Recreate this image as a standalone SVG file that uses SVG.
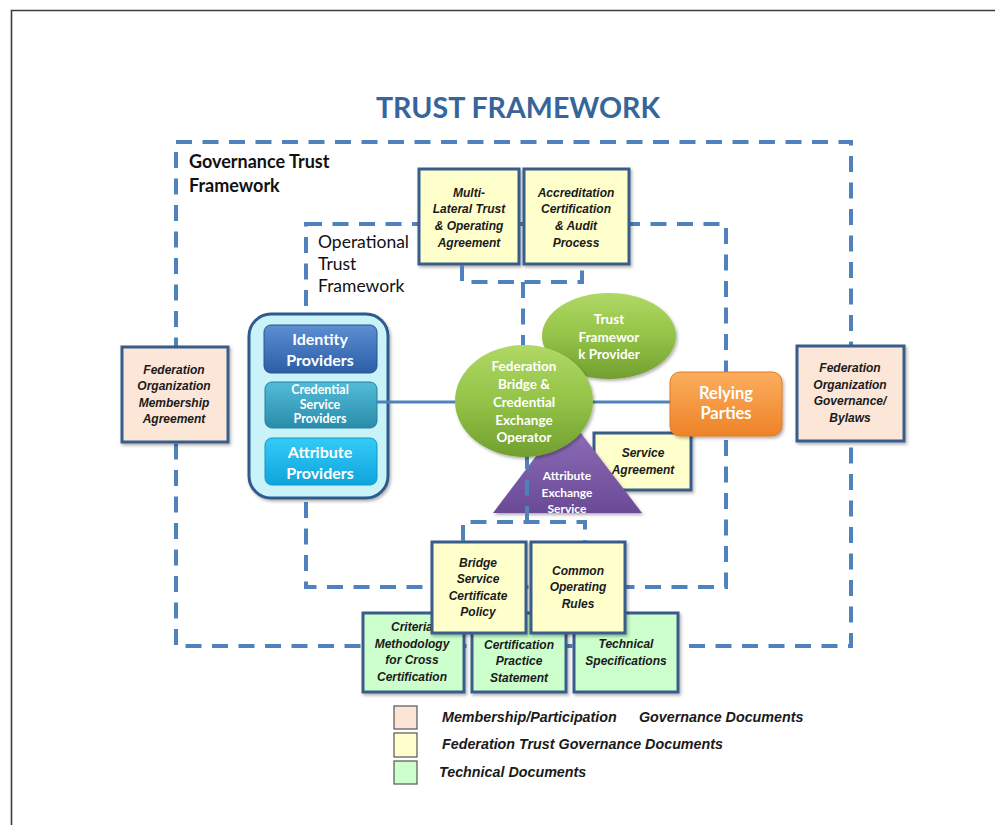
<svg xmlns="http://www.w3.org/2000/svg" width="995" height="825" viewBox="0 0 995 825">
  <defs>
    <style>
      .dash { fill: none; stroke: #4F81BD; stroke-width: 4; stroke-dasharray: 16 10.5; }
      .solid { fill: none; stroke: #4F81BD; stroke-width: 3; }
      .doc { stroke: #385D8A; stroke-width: 3; }
      .peach { fill: #FCE6D8; }
      .yellow { fill: #FFFFCC; }
      .green { fill: #CCFFCC; }
      .dt { font-family: "Liberation Sans", Arial, sans-serif; font-weight: bold; font-style: italic; font-size: 12px; fill: #1a1a1a; text-anchor: middle; }
      .wt { font-family: Lato, "Liberation Sans", sans-serif; font-weight: bold; fill: #ffffff; text-anchor: middle; }
      .lab { font-family: Lato, "Liberation Sans", sans-serif; fill: #111111; }
      .leg { font-family: "Liberation Sans", Arial, sans-serif; font-weight: bold; font-style: italic; font-size: 14.3px; fill: #1a1a1a; }
      .legbox { stroke: #555555; stroke-width: 1.2; }
    </style>
    <filter id="shadow" x="-10%" y="-10%" width="130%" height="130%">
      <feDropShadow dx="1.5" dy="2" stdDeviation="1.5" flood-color="#000000" flood-opacity="0.3"/>
    </filter>
    <linearGradient id="gIdentity" x1="0" y1="0" x2="0" y2="1">
      <stop offset="0" stop-color="#5C8ED3"/>
      <stop offset="1" stop-color="#2C5EA6"/>
    </linearGradient>
    <linearGradient id="gCredential" x1="0" y1="0" x2="0" y2="1">
      <stop offset="0" stop-color="#52BCD8"/>
      <stop offset="1" stop-color="#2A8CAB"/>
    </linearGradient>
    <linearGradient id="gAttribute" x1="0" y1="0" x2="0" y2="1">
      <stop offset="0" stop-color="#35CBF7"/>
      <stop offset="1" stop-color="#0FA4DC"/>
    </linearGradient>
    <linearGradient id="gGreen" x1="0" y1="0" x2="0" y2="1">
      <stop offset="0" stop-color="#B0D865"/>
      <stop offset="0.5" stop-color="#93C347"/>
      <stop offset="1" stop-color="#729F30"/>
    </linearGradient>
    <linearGradient id="gOrange" x1="0" y1="0" x2="0" y2="1">
      <stop offset="0" stop-color="#FBAE5E"/>
      <stop offset="1" stop-color="#EE8328"/>
    </linearGradient>
    <linearGradient id="gPurple" x1="0" y1="0" x2="0" y2="1">
      <stop offset="0" stop-color="#9272BC"/>
      <stop offset="1" stop-color="#6A4A96"/>
    </linearGradient>
  </defs>

  <rect width="995" height="825" fill="#ffffff"/>

  <!-- page border -->
  <path d="M11.5 825 V10.5 H995" fill="none" stroke="#3c3c3c" stroke-width="1.6"/>

  <!-- heading -->
  <text x="518" y="118" font-family="Lato, 'Liberation Sans', sans-serif" font-weight="bold" font-size="28.6" fill="#36659B" text-anchor="middle">TRUST FRAMEWORK</text>

  <!-- framework boundaries -->
  <g id="frames">
    <rect class="dash" x="176" y="142" width="675" height="504"/>
    <rect class="dash" x="306" y="224" width="420" height="363"/>
    <text class="lab" font-weight="bold" font-size="18" x="189" y="168">Governance Trust</text>
    <text class="lab" font-weight="bold" font-size="18" x="189" y="192">Framework</text>
    <text class="lab" font-size="17.5" x="318" y="248">Operational</text>
    <text class="lab" font-size="17.5" x="318" y="270">Trust</text>
    <text class="lab" font-size="17.5" x="318" y="292">Framework</text>
  </g>

  <!-- document boxes and parties -->
  <g id="multilateral-agreement">
    <rect class="doc yellow" x="419" y="169" width="100" height="95" filter="url(#shadow)"/>
    <text class="dt" x="469" y="197">Multi-</text>
    <text class="dt" x="469" y="213">Lateral Trust</text>
    <text class="dt" x="469" y="230">&amp; Operating</text>
    <text class="dt" x="469" y="247">Agreement</text>
  </g>
  <g id="accreditation-process">
    <rect class="doc yellow" x="524" y="169" width="105" height="95" filter="url(#shadow)"/>
    <text class="dt" x="576" y="197">Accreditation</text>
    <text class="dt" x="576" y="213">Certification</text>
    <text class="dt" x="576" y="230">&amp; Audit</text>
    <text class="dt" x="576" y="247">Process</text>
  </g>
  <g id="membership-agreement">
    <rect class="doc peach" x="122" y="347" width="106" height="95" filter="url(#shadow)"/>
    <text class="dt" x="174" y="374">Federation</text>
    <text class="dt" x="174" y="390">Organization</text>
    <text class="dt" x="174" y="407">Membership</text>
    <text class="dt" x="174" y="423">Agreement</text>
  </g>
  <g id="governance-bylaws">
    <rect class="doc peach" x="797" y="346" width="107" height="95" filter="url(#shadow)"/>
    <text class="dt" x="850" y="372">Federation</text>
    <text class="dt" x="850" y="389">Organization</text>
    <text class="dt" x="850" y="405">Governance/</text>
    <text class="dt" x="850" y="422">Bylaws</text>
  </g>

  <g id="providers">
    <rect x="249" y="314" width="139" height="184" rx="22" fill="#C9F3F8" stroke="#2F5A8E" stroke-width="3" filter="url(#shadow)"/>
    <g id="identity-providers">
      <rect x="264" y="325" width="113" height="48" rx="7" fill="url(#gIdentity)" stroke="#2A5290" stroke-width="1"/>
      <text class="wt" font-size="16" x="320" y="345">Identity</text>
      <text class="wt" font-size="16" x="320" y="366">Providers</text>
    </g>
    <g id="credential-service-providers">
      <rect x="265" y="382" width="112" height="46" rx="7" fill="url(#gCredential)" stroke="#25809C" stroke-width="1"/>
      <text class="wt" font-weight="normal" font-size="12.5" x="320" y="394">Credential</text>
      <text class="wt" font-weight="normal" font-size="12.5" x="320" y="409">Service</text>
      <text class="wt" font-weight="normal" font-size="12.5" x="320" y="423">Providers</text>
    </g>
    <g id="attribute-providers">
      <rect x="265" y="438" width="112" height="47" rx="7" fill="url(#gAttribute)" stroke="#0E97CB" stroke-width="1"/>
      <text class="wt" font-size="16" x="320" y="458">Attribute</text>
      <text class="wt" font-size="16" x="320" y="479">Providers</text>
    </g>
  </g>

  <g id="service-agreement">
    <rect class="doc yellow" x="594" y="433" width="97" height="57" filter="url(#shadow)"/>
    <text class="dt" x="643" y="457">Service</text>
    <text class="dt" x="643" y="474">Agreement</text>
  </g>

  <g id="relying-parties">
    <rect x="670" y="372" width="112" height="64" rx="10" fill="url(#gOrange)" stroke="#E27A22" stroke-width="1" filter="url(#shadow)"/>
    <text class="wt" font-size="16.5" x="726" y="399">Relying</text>
    <text class="wt" font-size="16.5" x="726" y="419">Parties</text>
  </g>

  <g id="attribute-exchange-service">
    <polygon points="567,415 642,513 493,513" fill="url(#gPurple)" filter="url(#shadow)"/>
    <text class="wt" font-size="12" x="567" y="480">Attribute</text>
    <text class="wt" font-size="12" x="567" y="497">Exchange</text>
    <text class="wt" font-size="12" x="567" y="513">Service</text>
  </g>

  <g id="technical-criteria">
    <rect class="doc green" x="363" y="613" width="101" height="79" filter="url(#shadow)"/>
    <text class="dt" x="412" y="631">Criteria</text>
    <text class="dt" x="412" y="648">Methodology</text>
    <text class="dt" x="412" y="664">for Cross</text>
    <text class="dt" x="412" y="681">Certification</text>
  </g>
  <g id="certification-practice-statement">
    <rect class="doc green" x="472" y="613" width="94" height="79" filter="url(#shadow)"/>
    <text class="dt" x="519" y="649">Certification</text>
    <text class="dt" x="519" y="665">Practice</text>
    <text class="dt" x="519" y="682">Statement</text>
  </g>
  <g id="technical-specifications">
    <rect class="doc green" x="574" y="613" width="104" height="79" filter="url(#shadow)"/>
    <text class="dt" x="626" y="648">Technical</text>
    <text class="dt" x="626" y="665">Specifications</text>
  </g>
  <g id="bridge-certificate-policy">
    <rect class="doc yellow" x="432" y="542" width="94" height="91" filter="url(#shadow)"/>
    <text class="dt" x="478" y="567">Bridge</text>
    <text class="dt" x="478" y="583">Service</text>
    <text class="dt" x="478" y="600">Certificate</text>
    <text class="dt" x="478" y="616">Policy</text>
  </g>
  <g id="common-operating-rules">
    <rect class="doc yellow" x="531" y="542" width="94" height="91" filter="url(#shadow)"/>
    <text class="dt" x="578" y="575">Common</text>
    <text class="dt" x="578" y="591">Operating</text>
    <text class="dt" x="578" y="608">Rules</text>
  </g>

  <!-- links between the parts -->
  <g id="connectors">
    <path class="dash" d="M462 265 V282 H582 V265"/>
    <path class="dash" d="M523 282 V346"/>
    <path class="dash" d="M463 541 V522 H585 V541"/>
    <path class="dash" d="M527 522 V456"/>
    <path class="solid" d="M377 402 H670"/>
  </g>

  <g id="trust-framework-provider">
    <ellipse cx="609" cy="336" rx="67" ry="43" fill="url(#gGreen)" filter="url(#shadow)"/>
    <text class="wt" font-size="13.5" x="609" y="324">Trust</text>
    <text class="wt" font-size="13.5" x="609" y="342">Framewor</text>
    <text class="wt" font-size="13.5" x="609" y="359">k Provider</text>
  </g>
  <g id="federation-bridge-operator">
    <ellipse cx="524" cy="401" rx="69" ry="56" fill="url(#gGreen)" filter="url(#shadow)"/>
    <text class="wt" font-size="13.5" x="524" y="371">Federation</text>
    <text class="wt" font-size="13.5" x="524" y="389">Bridge &amp;</text>
    <text class="wt" font-size="13.5" x="524" y="407">Credential</text>
    <text class="wt" font-size="13.5" x="524" y="425">Exchange</text>
    <text class="wt" font-size="13.5" x="524" y="442">Operator</text>
  </g>

  <!-- key -->
  <g id="legend">
    <rect class="legbox" x="394" y="706" width="23" height="23" fill="#FCE4D6"/>
    <rect class="legbox" x="394" y="733" width="23" height="24" fill="#FFFFCC"/>
    <rect class="legbox" x="394" y="761" width="23" height="23" fill="#CCFFCC"/>
    <text class="leg" x="442" y="722">Membership/Participation</text>
    <text class="leg" x="639" y="722">Governance Documents</text>
    <text class="leg" x="442" y="749">Federation Trust Governance Documents</text>
    <text class="leg" x="439" y="777">Technical Documents</text>
  </g>
</svg>
